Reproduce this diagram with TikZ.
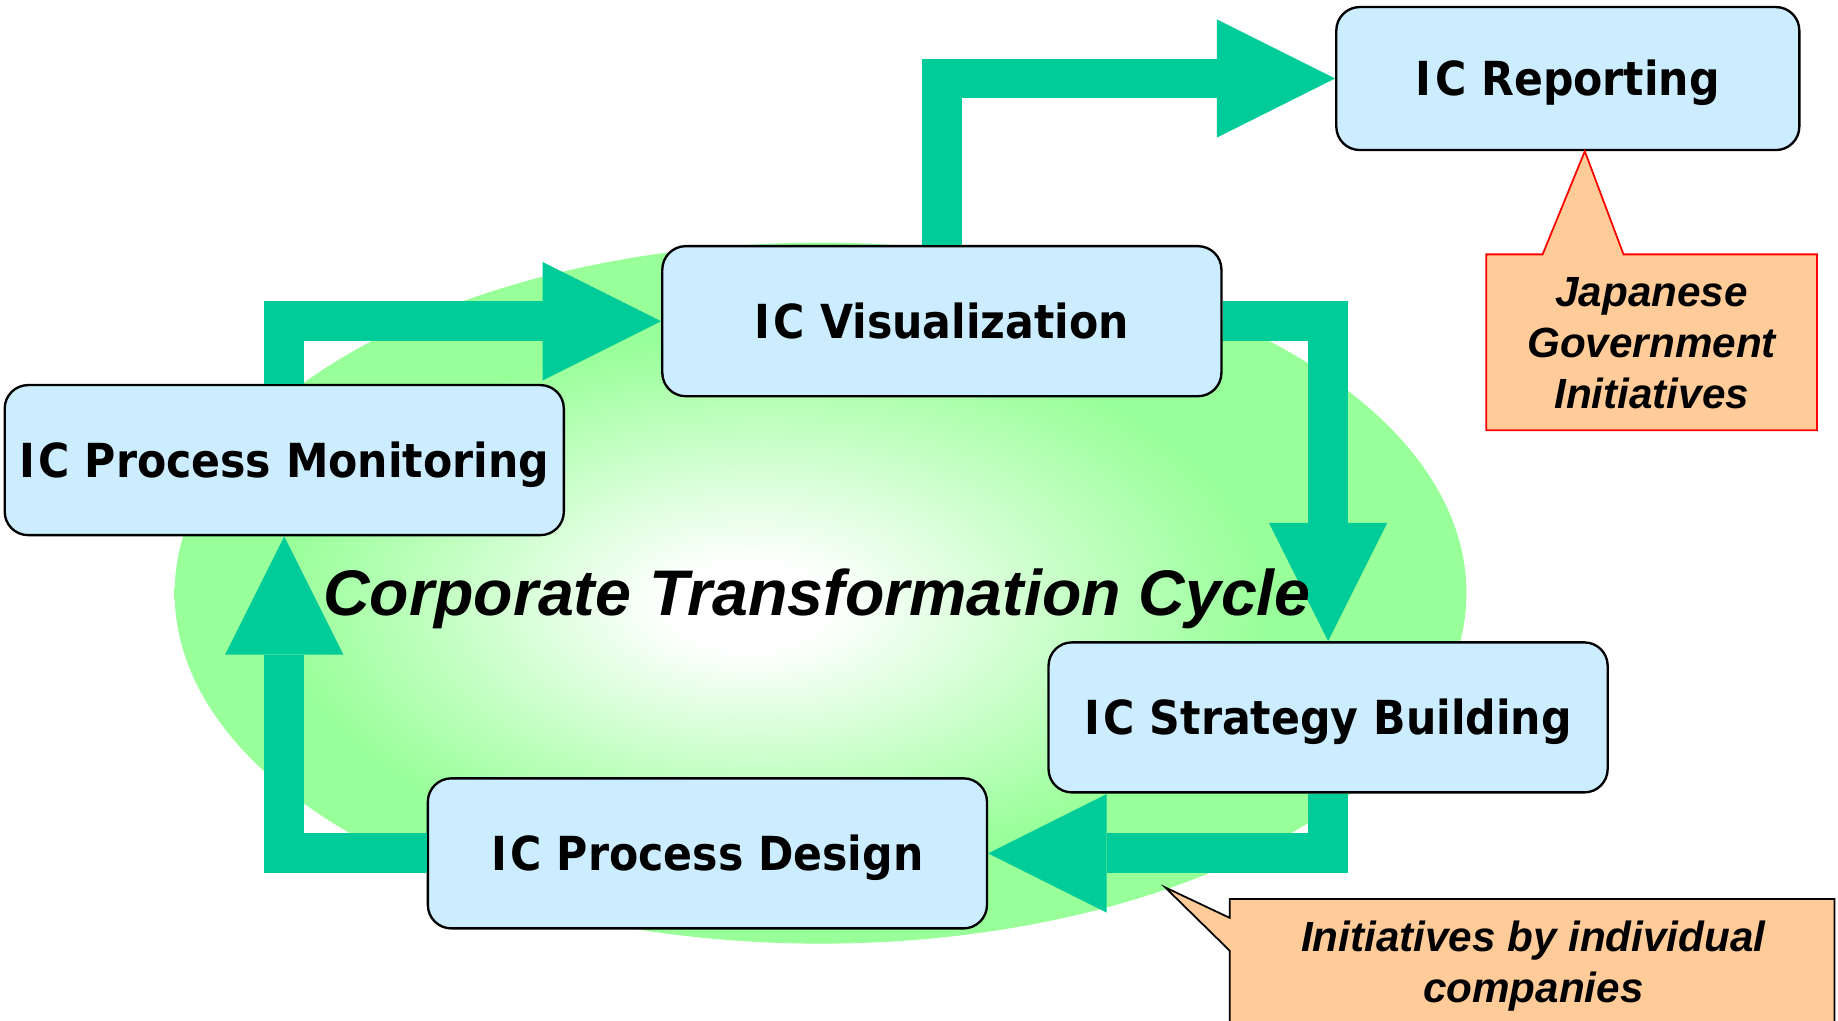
\documentclass[tikz,border=0pt]{standalone}
\usepackage{fontspec}
\setmainfont{Liberation Sans}
\newfontfamily\boxfont[FakeStretch=0.91]{DejaVu Sans}
\usetikzlibrary{arrows.meta,calc}
\definecolor{ringgreen}{RGB}{153,255,153}
\definecolor{flowgreen}{RGB}{0,204,153}
\definecolor{boxblue}{RGB}{204,236,255}
\definecolor{notepeach}{RGB}{255,204,153}
\pgfdeclareradialshading{cycleglow}{\pgfpoint{-3bp}{-1bp}}{color(0bp)=(white); color(3bp)=(white); color(19bp)=(ringgreen); color(25bp)=(ringgreen); color(50bp)=(ringgreen)}
\newcommand{\IC}{I\kern3pt C}

\begin{document}
\begin{tikzpicture}[x=1pt,y=1pt,
	icbox/.style={draw,line width=2pt,rounded corners=20pt,fill=boxblue,
		minimum width=477pt,minimum height=128pt,inner sep=0pt,
		text height=29pt,text depth=0pt,
		font=\boxfont\bfseries\fontsize{40}{48}\selectfont},
	flow/.style={draw=flowgreen,line width=34pt,line join=miter,
		-{Triangle[length=101pt,width=101pt,line width=0pt]}},
	notetext/.style={align=center,font=\bfseries\itshape\fontsize{36}{43.5}\selectfont}]
	\useasboundingbox (0,0) rectangle (1568,-871);
	\shade [shading=cycleglow] (700,-506) ellipse [x radius=551,y radius=299];
	\node (vis) [icbox] at (803.5,-274) {\IC{} Visualization};
	\node (rep) [icbox,minimum width=395pt,minimum height=122pt] at (1337.5,-67) {\IC{} Reporting};
	\node (mon) [icbox] at (242.5,-392.5) {\IC{} Process Monitoring};
	\node (str) [icbox] at (1133,-612) {\IC{} Strategy Building};
	\node (des) [icbox] at (603.5,-728) {\IC{} Process Design};
	% callouts
	\draw [red,line width=1.5pt,fill=notepeach] (1268,-217) -- (1316,-217) -- ($(rep.south)+(14.5,0)$)
		-- (1385,-217) -- (1550,-217) -- (1550,-367) -- (1268,-367) -- cycle;
	\node (gov) [notetext] at (1409,-293) {Japanese\\Government\\Initiatives};
	\draw [black,line width=1.5pt,fill=notepeach] (1049,-767) -- (1565,-767) -- (1565,-890)
		-- (1049,-890) -- (1049,-811) -- (994,-757) -- (1049,-783) -- cycle;
	\node (ind) [notetext] at (1308,-824) {Initiatives by individual\\companies};
	% cycle
	\draw [flow] (vis.north) |- (rep.west);
	\draw [flow] (mon.north) |- (vis.west);
	\draw [flow] (vis.east) -| (str.north);
	\draw [flow] (str.south) |- (des.east);
	\draw [flow] (des.west) -| (mon.south);
	\node (ctc) [font=\bfseries\itshape\fontsize{55}{66}\selectfont] at (697,-511) {Corporate Transformation Cycle};
\end{tikzpicture}
\end{document}
